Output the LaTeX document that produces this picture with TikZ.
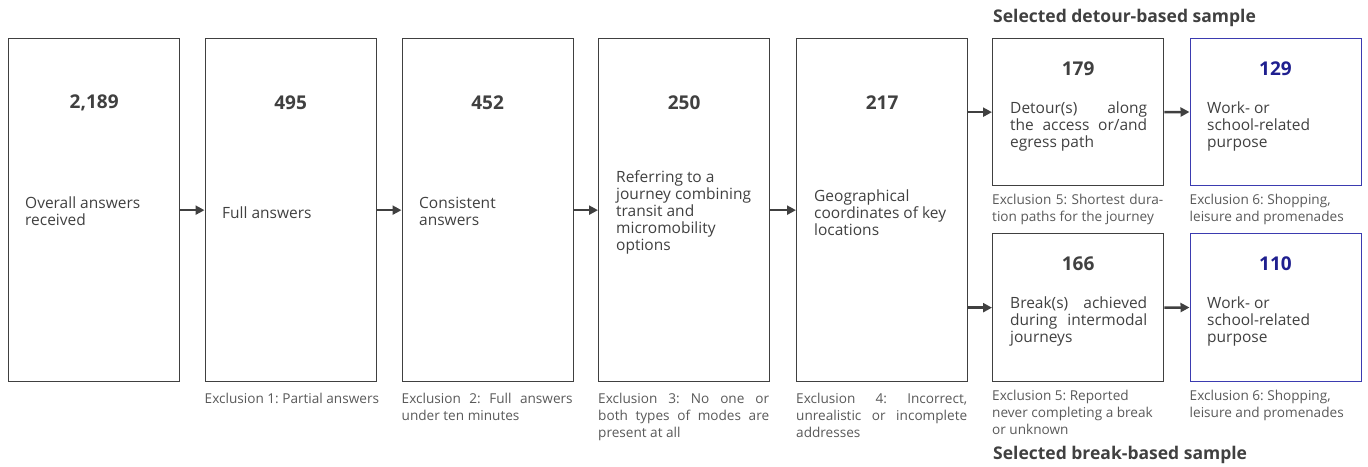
\documentclass[tikz,border=0pt]{standalone}
\usepackage{fontspec}
\setmainfont{Open Sans}
\usetikzlibrary{arrows.meta}
\frenchspacing
\definecolor{ink}{HTML}{404040}
\definecolor{lab}{HTML}{595959}
\definecolor{navy}{HTML}{1F1F8F}
\definecolor{bluebd}{HTML}{3B3BB0}
\newcommand{\jl}[1]{\makebox[\hsize][l]{#1}}
\newcommand{\gp}{\hfill}
\tikzset{
  box/.style={draw=ink, line width=1.3pt, minimum width=171pt, inner sep=0pt, anchor=north west},
  bluebox/.style={box, draw=bluebd, line width=1pt},
  num/.style={font=\fontsize{19}{22}\selectfont\bfseries, text=ink, inner sep=0pt},
  bnum/.style={num, text=navy},
  txt/.style={font=\fontsize{15.5}{17}\selectfont, text=ink, text width=137pt, align=left, anchor=west, inner sep=0pt,
     execute at begin node={\spaceskip=0pt\xspaceskip=0pt\relax}},
  lbl/.style={font=\fontsize{13.6}{17}\selectfont, text=lab, text width=171pt, align=left, anchor=north west, inner sep=0pt,
     execute at begin node={\spaceskip=0pt\xspaceskip=0pt\relax}},
  ttl/.style={font=\fontsize{17.5}{20}\selectfont\bfseries, text=ink, anchor=west, inner sep=0pt},
  arr/.style={draw=ink, line width=2.4pt, -{Triangle[length=9pt,width=9pt]}}
}
\begin{document}
\begin{tikzpicture}[x=1pt,y=-1pt]
\useasboundingbox (0,0) rectangle (1368,466);
% main boxes
\node[box, minimum height=343pt] (b1) at (8,38) {};
\node[box, minimum height=343pt] (b2) at (204.5,38) {};
\node[box, minimum height=343pt] (b3) at (401.5,38) {};
\node[box, minimum height=343pt] (b4) at (598,38) {};
\node[box, minimum height=343pt] (b5) at (796,38) {};
\node[box, minimum height=147pt] (b6) at (992,38) {};
\node[bluebox, minimum height=147pt] (b7) at (1189.5,38) {};
\node[box, minimum height=148pt] (b8) at (992,233) {};
\node[bluebox, minimum height=148pt] (b9) at (1189.5,233) {};
% numbers
\node[num] (n1) at (b1.center |- 0,103) {2,189};
\node[num] (n2) at (b2.center |- 0,103) {495};
\node[num] (n3) at (b3.center |- 0,103) {452};
\node[num] (n4) at (b4.center |- 0,103) {250};
\node[num] (n5) at (b5.center |- 0,103) {217};
\node[num] (n6) at (b6.center |- 0,69) {179};
\node[bnum] (n7) at (b7.center |- 0,69) {129};
\node[num] (n8) at (b8.center |- 0,264) {166};
\node[bnum] (n9) at (b9.center |- 0,264) {110};
% texts
\node[txt] (t1) at (25,211) {Overall answers\\received};
\node[txt] (t2) at (222,213) {Full answers};
\node[txt] (t3) at (419,211) {Consistent\\answers};
\node[txt] (t4) at (616,212) {Referring to a\\journey combining\\transit and\\micromobility\\options};
\node[txt] (t5) at (814,213) {Geographical\\coordinates of key\\locations};
\node[txt] (t6) at (1010,126) {\jl{Detour(s)\gp along}\\\jl{the\gp access\gp or/and}\\egress path};
\node[txt] (t7) at (1207,126) {Work- or\\school-related\\purpose};
\node[txt] (t8) at (1010,321) {\jl{Break(s)\gp achieved}\\\jl{during\gp intermodal}\\journeys};
\node[txt] (t9) at (1207,321) {Work- or\\school-related\\purpose};
% exclusion labels
\node[lbl, text width=190pt] (e2) at (204.5,391.5) {\strut Exclusion 1: Partial answers};
\node[lbl] (e3) at (401.5,391.5) {\strut\jl{Exclusion\gp 2:\gp Full\gp answers}\\under ten minutes};
\node[lbl] (e4) at (598,391.5) {\strut\jl{Exclusion\gp 3:\gp No\gp one\gp or}\\\jl{both\gp types\gp of\gp modes\gp are}\\present at all};
\node[lbl] (e5) at (796,391.5) {\strut\jl{Exclusion\gp 4:\gp Incorrect,}\\\jl{unrealistic\gp or\gp incomplete}\\addresses};
\node[lbl] (e6) at (992,192) {\strut\jl{Exclusion\gp 5:\gp Shortest\gp dura-}\\tion paths for the journey};
\node[lbl] (e7) at (1189.5,192) {\strut Exclusion 6: Shopping,\\leisure and promenades};
\node[lbl] (e8) at (992,388.5) {\strut Exclusion 5: Reported\\never completing a break\\or unknown};
\node[lbl] (e9) at (1189.5,388.5) {\strut Exclusion 6: Shopping,\\leisure and promenades};
% titles
\node[ttl] (h1) at (993,18) {Selected detour-based sample};
\node[ttl] (h2) at (993,455) {Selected break-based sample};
% arrows
\draw[arr] (b1.east) -- (b2.west);
\draw[arr] (b2.east) -- (b3.west);
\draw[arr] (b3.east) -- (b4.west);
\draw[arr] (b4.east) -- (b5.west);
\draw[arr] (b6.west -| b5.east) -- (b6.west);
\draw[arr] (b8.west -| b5.east) -- (b8.west);
\draw[arr] (b6.east) -- (b7.west);
\draw[arr] (b8.east) -- (b9.west);
\end{tikzpicture}
\end{document}
